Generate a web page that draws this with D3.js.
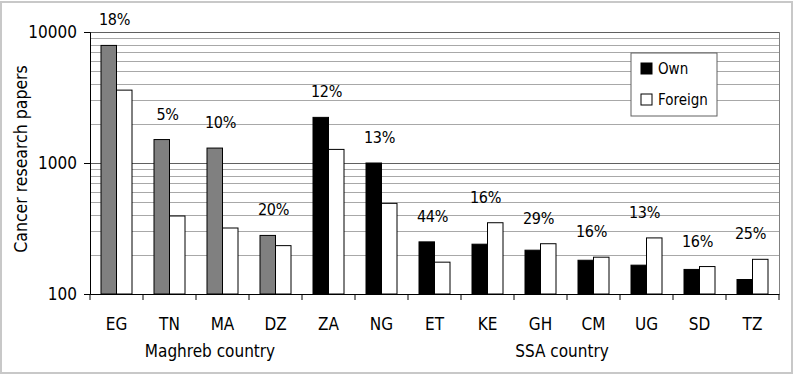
<!DOCTYPE html>
<html>
<head>
<meta charset="utf-8">
<script src="https://cdn.jsdelivr.net/npm/d3@7"></script>
<style>
  body { margin: 0; background: #fff; }
  text { font-family: "DejaVu Sans Condensed", "DejaVu Sans", sans-serif; font-stretch: condensed; fill: #000; }
</style>
</head>
<body>
<div id="chart"></div>
<script>
// data
const countries = ["EG", "TN", "MA", "DZ", "ZA", "NG", "ET", "KE", "GH", "CM", "UG", "SD", "TZ"];
const region = ["Maghreb", "Maghreb", "Maghreb", "Maghreb", "SSA", "SSA", "SSA", "SSA", "SSA", "SSA", "SSA", "SSA", "SSA"];
const ownPapers = [7900, 1510, 1300, 280, 2230, 1000, 250, 240, 216, 181, 166, 154, 129];
const foreignPapers = [3600, 394, 319, 234, 1270, 492, 175, 350, 242, 191, 268, 162, 184];
const shareLabels = ["18%", "5%", "10%", "20%", "12%", "13%", "44%", "16%", "29%", "16%", "13%", "16%", "25%"];
const yTicks = [100, 1000, 10000];
const seriesNames = ["Own", "Foreign"];

const width = 794, height = 375;
const margin = { top: 32, right: 15, bottom: 81, left: 90 };

const svg = d3.select("#chart").append("svg")
  .attr("width", width)
  .attr("height", height);

// outer frame
svg.append("rect")
  .attr("x", 1).attr("y", 2)
  .attr("width", 791).attr("height", 371)
  .attr("fill", "none")
  .attr("stroke", "#c8c8c8")
  .attr("stroke-width", 2);

const x = d3.scaleBand()
  .domain(countries)
  .range([margin.left, width - margin.right]);

const y = d3.scaleLog()
  .domain([100, 10000])
  .range([height - margin.bottom, margin.top]);

// gridlines, minor then major
const minor = [];
[100, 1000].forEach(d => { for (let k = 2; k <= 9; k++) minor.push(d * k); });
svg.append("g").selectAll("line")
  .data(minor)
  .join("line")
  .attr("x1", margin.left).attr("x2", width - margin.right)
  .attr("y1", d => Math.round(y(d)) + 0.5).attr("y2", d => Math.round(y(d)) + 0.5)
  .attr("stroke", "#a8a8a8");
svg.append("g").selectAll("line")
  .data([1000, 10000])
  .join("line")
  .attr("x1", margin.left).attr("x2", width - margin.right)
  .attr("y1", d => Math.round(y(d)) + 0.5).attr("y2", d => Math.round(y(d)) + 0.5)
  .attr("stroke", "#606060");

// right edge of plot
svg.append("line")
  .attr("x1", width - margin.right + 0.5).attr("x2", width - margin.right + 0.5)
  .attr("y1", y(10000)).attr("y2", y(100))
  .attr("stroke", "#808080");

// bars
const barW = 15.5;
const groups = svg.append("g").selectAll("g")
  .data(countries)
  .join("g")
  .attr("transform", d => `translate(${x(d) + x.bandwidth() / 2},0)`);

groups.append("rect")
  .attr("x", -barW)
  .attr("y", (d, i) => y(ownPapers[i]))
  .attr("width", barW)
  .attr("height", (d, i) => y(100) - y(ownPapers[i]))
  .attr("fill", (d, i) => region[i] === "Maghreb" ? "#808080" : "#000")
  .attr("stroke", "#000");

groups.append("rect")
  .attr("x", 0)
  .attr("y", (d, i) => y(foreignPapers[i]))
  .attr("width", barW)
  .attr("height", (d, i) => y(100) - y(foreignPapers[i]))
  .attr("fill", "#fff")
  .attr("stroke", "#000");

// share labels above the taller bar
groups.append("text")
  .attr("x", -2)
  .attr("y", (d, i) => y(Math.max(ownPapers[i], foreignPapers[i])) - 20)
  .attr("text-anchor", "middle")
  .style("font-size", "16px")
  .style("letter-spacing", "-0.3px")
  .text((d, i) => shareLabels[i]);

// axes
const xAxis = svg.append("g")
  .attr("transform", `translate(0,${y(100)})`)
  .call(d3.axisBottom(x).tickSize(0).tickPadding(24));
xAxis.select(".domain").attr("stroke", "#000");
xAxis.selectAll("text").style("font-size", "17px").attr("font-family", null);
xAxis.selectAll(".sep")
  .data(countries.concat(["end"]))
  .join("line")
  .attr("class", "sep")
  .attr("x1", (d, i) => margin.left + i * x.bandwidth())
  .attr("x2", (d, i) => margin.left + i * x.bandwidth())
  .attr("y1", 0).attr("y2", 6)
  .attr("stroke", "#000");

const yAxis = svg.append("g")
  .attr("transform", `translate(${margin.left},0)`)
  .call(d3.axisLeft(y).tickValues(yTicks).tickFormat(d3.format("d")).tickSize(6).tickPadding(7));
yAxis.select(".domain").attr("stroke", "#000");
yAxis.selectAll("text").style("font-size", "17px").attr("font-family", null);

// axis titles
svg.append("text")
  .attr("transform", "translate(27,159) rotate(-90)")
  .attr("text-anchor", "middle")
  .style("font-size", "17.5px")
  .text("Cancer research papers");

svg.append("text")
  .attr("x", 210).attr("y", 357)
  .attr("text-anchor", "middle")
  .style("font-size", "17px")
  .text("Maghreb country");

svg.append("text")
  .attr("x", 562).attr("y", 357)
  .attr("text-anchor", "middle")
  .style("font-size", "17px")
  .text("SSA country");

// legend
const legend = svg.append("g").attr("transform", "translate(631,53)");
legend.append("rect")
  .attr("width", 86).attr("height", 63)
  .attr("fill", "#fff")
  .attr("stroke", "#606060");
const items = legend.selectAll(".item")
  .data(seriesNames)
  .join("g")
  .attr("class", "item")
  .attr("transform", (d, i) => `translate(10,${10 + i * 31})`);
items.append("rect")
  .attr("width", 11).attr("height", 11)
  .attr("fill", (d, i) => i === 0 ? "#000" : "#fff")
  .attr("stroke", "#000");
items.append("text")
  .attr("x", 17).attr("y", 11)
  .style("font-size", "15px")
  .text(d => d);
</script>
</body>
</html>
